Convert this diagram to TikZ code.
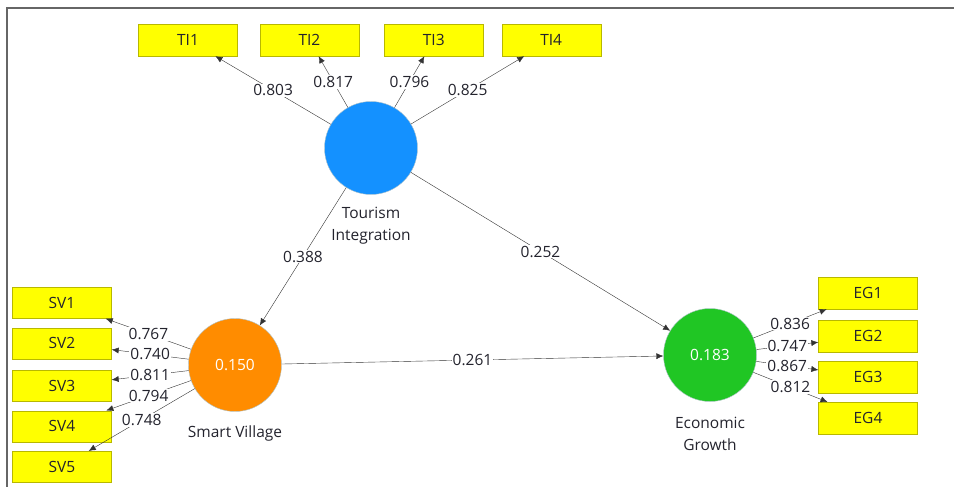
\documentclass[tikz,border=0pt]{standalone}
\usepackage{fontspec}
\setmainfont{Open Sans}
\usetikzlibrary{arrows.meta,positioning}
\definecolor{tic}{RGB}{20,145,255}
\definecolor{svc}{RGB}{255,140,0}
\definecolor{egc}{RGB}{32,198,36}
\definecolor{indc}{RGB}{255,255,0}
\definecolor{txtc}{RGB}{35,35,45}
\tikzset{
	construct/.style={
		circle, minimum size=93pt, inner sep=0pt,
		thin, draw=cyan!25!gray!60, text=white
	},
	%
	indicator/.style={
		rectangle, minimum width=99pt, minimum height=32pt, inner sep=0pt,
		fill=indc, draw=indc!72!black, text=txtc
	},
	%
	loading/.style={
		-{Latex[length=7pt,width=6pt]}, draw=black!80, thin
	},
	%
	weight/.style={
		midway, fill=white, inner sep=1pt, text=txtc
	},
	%
	caption/.style={
		align=center, text=txtc
	}
}

\begin{document}
\begin{tikzpicture}[x=1pt, y=-1pt, font=\fontsize{15.5}{22}\selectfont]
\useasboundingbox (0,0) rectangle (954,487);
\draw[black!60, line width=2pt] (7,487) -- (7,8) -- (954,8);

% constructs
\node(ti)[construct, fill=tic] at (371,148) {};
\node(sv)[construct, fill=svc] at (235,365) {0.150};
\node(eg)[construct, fill=egc] at (710,355) {0.183};
\node(tilab)[caption] at (371,226) {Tourism\\Integration};
\node(svlab)[caption] at (235,433) {Smart Village};
\node(eglab)[caption] at (710,434) {Economic\\Growth};

% indicators
\node(ti1)[indicator] at (188,40) {TI1};
\node(ti2)[indicator, right=22pt of ti1] {TI2};
\node(ti3)[indicator, right=25pt of ti2] {TI3};
\node(ti4)[indicator, right=18pt of ti3] {TI4};

\node(sv1)[indicator, minimum height=31pt] at (62,303) {SV1};
\node(sv2)[indicator, minimum height=31pt, below=9pt of sv1] {SV2};
\node(sv3)[indicator, minimum height=31pt, below=11pt of sv2] {SV3};
\node(sv4)[indicator, minimum height=31pt, below=9pt of sv3] {SV4};
\node(sv5)[indicator, minimum height=31pt, below=9pt of sv4] {SV5};

\node(eg1)[indicator] at (868,293) {EG1};
\node(eg2)[indicator, below=11pt of eg1] {EG2};
\node(eg3)[indicator, below=8pt of eg2] {EG3};
\node(eg4)[indicator, below=9pt of eg3] {EG4};

% outer loadings
\draw[loading] (ti) -- node[weight]{0.803} (ti1);
\draw[loading] (ti) -- node[weight]{0.817} (ti2);
\draw[loading] (ti) -- node[weight]{0.796} (ti3);
\draw[loading] (ti) -- node[weight]{0.825} (ti4);

\draw[loading] (sv) -- node[weight]{0.767} (sv1);
\draw[loading] (sv) -- node[weight]{0.740} (sv2);
\draw[loading] (sv) -- node[weight]{0.811} (sv3);
\draw[loading] (sv) -- node[weight]{0.794} (sv4);
\draw[loading] (sv) -- node[weight]{0.748} (sv5);

\draw[loading] (eg) -- node[weight]{0.836} (eg1);
\draw[loading] (eg) -- node[weight]{0.747} (eg2);
\draw[loading] (eg) -- node[weight]{0.867} (eg3);
\draw[loading] (eg) -- node[weight]{0.812} (eg4);

% path coefficients
\draw[loading] (ti) -- node[weight]{0.388} (sv);
\draw[loading] (ti) -- node[weight]{0.252} (eg);
\draw[loading] (sv) -- node[weight]{0.261} (eg);
\end{tikzpicture}
\end{document}
